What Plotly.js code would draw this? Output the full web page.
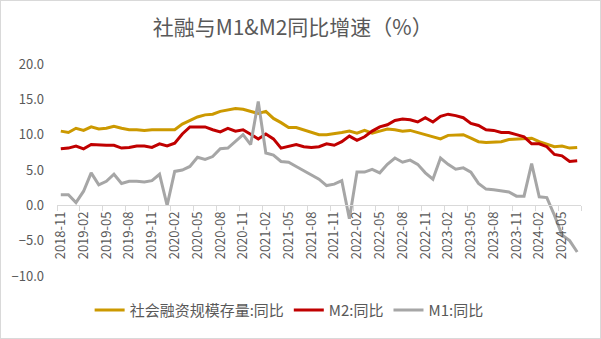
<!DOCTYPE html>
<html>
<head>
<meta charset="utf-8">
<script src="https://cdn.plot.ly/plotly-3.0.1.min.js"></script>
<style>
  html, body { margin: 0; padding: 0; background: #fff; }
  #wrap { position: relative; width: 601px; height: 339px; }
  #chart { width: 601px; height: 339px; }
  #frame { position: absolute; left: 0; top: 0; width: 601px; height: 339px; box-sizing: border-box; border: 1px solid #d9d9d9; pointer-events: none; }
</style>
</head>
<body>
<div id="wrap"><div id="chart"></div><div id="frame"></div></div>
<script>
var months = [
  '2018-11','2018-12',
  '2019-01','2019-02','2019-03','2019-04','2019-05','2019-06','2019-07','2019-08','2019-09','2019-10','2019-11','2019-12',
  '2020-01','2020-02','2020-03','2020-04','2020-05','2020-06','2020-07','2020-08','2020-09','2020-10','2020-11','2020-12',
  '2021-01','2021-02','2021-03','2021-04','2021-05','2021-06','2021-07','2021-08','2021-09','2021-10','2021-11','2021-12',
  '2022-01','2022-02','2022-03','2022-04','2022-05','2022-06','2022-07','2022-08','2022-09','2022-10','2022-11','2022-12',
  '2023-01','2023-02','2023-03','2023-04','2023-05','2023-06','2023-07','2023-08','2023-09','2023-10','2023-11','2023-12',
  '2024-01','2024-02','2024-03','2024-04','2024-05','2024-06','2024-07'
];

var tsfYoY = [
  10.5,10.3,
  10.9,10.6,11.1,10.8,10.9,11.2,10.9,10.7,10.7,10.6,10.7,10.7,
  10.7,10.7,11.5,12.0,12.5,12.8,12.9,13.3,13.5,13.7,13.6,13.3,
  13.0,13.3,12.3,11.7,11.0,11.0,10.7,10.3,10.0,10.0,10.1,10.3,
  10.5,10.2,10.6,10.2,10.5,10.8,10.7,10.5,10.6,10.3,10.0,9.6,
  9.4,9.9,10.0,10.0,9.5,9.0,8.9,9.0,9.0,9.3,9.4,9.5,
  9.5,9.0,8.7,8.3,8.4,8.1,8.2
];

var m2YoY = [
  8.0,8.1,
  8.4,8.0,8.6,8.5,8.5,8.5,8.1,8.2,8.4,8.4,8.2,8.7,
  8.4,8.8,10.1,11.1,11.1,11.1,10.7,10.4,10.9,10.5,10.7,10.1,
  9.4,10.1,9.4,8.1,8.3,8.6,8.3,8.2,8.3,8.7,8.5,9.0,
  9.8,9.2,9.7,10.5,11.1,11.4,12.0,12.2,12.1,11.8,12.4,11.8,
  12.6,12.9,12.7,12.4,11.6,11.3,10.7,10.6,10.3,10.3,10.0,9.7,
  8.7,8.7,8.3,7.2,7.0,6.2,6.3
];

var m1YoY = [
  1.5,1.5,
  0.4,2.0,4.6,2.9,3.4,4.4,3.1,3.4,3.4,3.3,3.5,4.4,
  0.0,4.8,5.0,5.5,6.8,6.5,6.9,8.0,8.1,9.1,10.0,8.6,
  14.7,7.4,7.1,6.2,6.1,5.5,4.9,4.2,3.7,2.8,3.0,3.5,
  -1.9,4.7,4.7,5.1,4.6,5.8,6.7,6.1,6.4,5.8,4.6,3.7,
  6.7,5.8,5.1,5.3,4.7,3.1,2.3,2.2,2.1,1.9,1.3,1.3,
  5.9,1.2,1.1,-1.4,-4.2,-5.0,-6.6
];

var seriesNames = ['社会融资规模存量:同比', 'M2:同比', 'M1:同比'];
var yTicks = [-10, -5, 0, 5, 10, 15, 20];

var txt = '#595959';
var fam = '"Noto Sans CJK SC", "Noto Sans", sans-serif';

var traces = [
  {x: months, y: tsfYoY, name: seriesNames[0], type: 'scatter', mode: 'lines',
   line: {color: '#CC9900', width: 3}},
  {x: months, y: m2YoY, name: seriesNames[1], type: 'scatter', mode: 'lines',
   line: {color: '#C00000', width: 3}},
  {x: months, y: m1YoY, name: seriesNames[2], type: 'scatter', mode: 'lines',
   line: {color: '#A6A6A6', width: 3}}
];

var layout = {
  width: 601, height: 339,
  margin: {l: 57, r: 20, t: 64, b: 59, pad: 0},
  paper_bgcolor: '#ffffff', plot_bgcolor: '#ffffff',
  font: {family: fam, color: txt, size: 13},
  showlegend: true,
  title: {
    text: '社融与M1&M2同比增速（%）',
    font: {family: fam, size: 21, color: txt},
    x: 0.487, xref: 'container', xanchor: 'center',
    y: 0.919, yref: 'container', yanchor: 'middle'
  },
  xaxis: {
    type: 'category',
    categoryorder: 'array', categoryarray: months,
    range: [-0.5, months.length - 0.5],
    anchor: 'free', position: 1/3,
    tickmode: 'linear', tick0: 0, dtick: 3,
    tickson: 'boundaries',
    ticks: 'outside', ticklen: 5, tickcolor: '#d9d9d9', tickwidth: 1,
    showline: true, linecolor: '#d9d9d9', linewidth: 1,
    showgrid: false, zeroline: false,
    tickangle: -90,
    tickfont: {family: fam, size: 13, color: txt},
    fixedrange: true
  },
  yaxis: {
    range: [-10, 20],
    tickmode: 'array', tickvals: yTicks,
    tickformat: '.1f',
    showgrid: false, zeroline: false, showline: false,
    ticks: '',
    ticklabelstandoff: 12,
    tickfont: {family: fam, size: 13, color: txt},
    fixedrange: true
  },
  legend: {
    orientation: 'h',
    x: 0.443, xanchor: 'center', xref: 'paper',
    y: -0.162, yanchor: 'middle',
    font: {family: fam, size: 15, color: txt},
    itemwidth: 30,
    bgcolor: 'rgba(0,0,0,0)'
  },
  hovermode: false
};

Plotly.newPlot('chart', traces, layout, {staticPlot: true, displayModeBar: false});
</script>
</body>
</html>
